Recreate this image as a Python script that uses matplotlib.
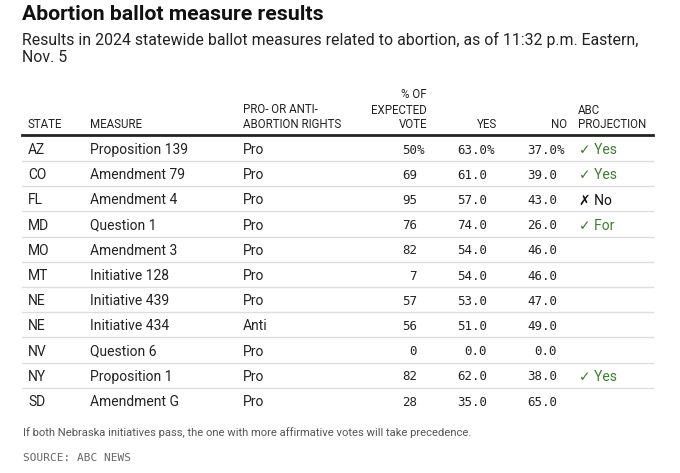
import matplotlib.pyplot as plt

states = ["AZ", "CO", "FL", "MD", "MO", "MT", "NE", "NE", "NV", "NY", "SD"]
measures = ["Proposition 139", "Amendment 79", "Amendment 4", "Question 1", "Amendment 3",
            "Initiative 128", "Initiative 439", "Initiative 434", "Question 6",
            "Proposition 1", "Amendment G"]
stances = ["Pro", "Pro", "Pro", "Pro", "Pro", "Pro", "Pro", "Anti", "Pro", "Pro", "Pro"]
expected = [50, 69, 95, 76, 82, 7, 57, 56, 0, 82, 28]
yes = [63.0, 61.0, 57.0, 74.0, 54.0, 54.0, 53.0, 51.0, 0.0, 62.0, 35.0]
no = [37.0, 39.0, 43.0, 26.0, 46.0, 46.0, 47.0, 49.0, 0.0, 38.0, 65.0]
projection = ["Yes", "Yes", "No", "For", "", "", "", "", "", "Yes", ""]
called = [True, True, False, True, None, None, None, None, None, True, None]

TEXT = "#222222"
GREEN = "#3b7d2e"
SANS = ["Roboto", "DejaVu Sans"]
MONO = "DejaVu Sans Mono"

fig = plt.figure(figsize=(6.8, 4.73), dpi=100)
ax = fig.add_axes([0, 0, 1, 1])
ax.set_xlim(0, 680)
ax.set_ylim(473, 0)
ax.axis("off")

# titles
ax.text(22, 15, "Abortion ballot measure results", fontsize=15.3, fontweight="bold",
        family=SANS, color="#111111", va="center")
ax.text(22, 40, "Results in 2024 statewide ballot measures related to abortion, as of 11:32 p.m. Eastern,",
        fontsize=11.4, family=SANS, color=TEXT, va="center")
ax.text(22, 58, "Nov. 5", fontsize=11.4, family=SANS, color=TEXT, va="center")

# header
hdr = dict(fontsize=8.3, family=SANS, color=TEXT, va="center")
ax.text(28, 124, "STATE", **hdr)
ax.text(90, 124, "MEASURE", **hdr)
ax.text(243, 109, "PRO- OR ANTI-", **hdr)
ax.text(243, 124, "ABORTION RIGHTS", **hdr)
ax.text(427, 95, "% OF", ha="right", **hdr)
ax.text(427, 110, "EXPECTED", ha="right", **hdr)
ax.text(427, 124, "VOTE", ha="right", **hdr)
ax.text(497, 124, "YES", ha="right", **hdr)
ax.text(567, 124, "NO", ha="right", **hdr)
ax.text(578, 110, "ABC", **hdr)
ax.text(578, 124, "PROJECTION", **hdr)
ax.plot([22, 653], [135, 135], color=TEXT, lw=2)

row0, step = 150, 25.2
body = dict(fontsize=10, family=SANS, color=TEXT, va="center")
num = dict(fontsize=9, family=MONO, color=TEXT, va="center", ha="right")
for i, st in enumerate(states):
    y = row0 + i * step
    ax.text(28, y, st, **body)
    ax.text(90, y, measures[i], **body)
    ax.text(243, y, stances[i], **body)
    ax.text(417, y, f"{expected[i]}", **num)
    ax.text(487, y, f"{yes[i]:.1f}", **num)
    ax.text(557, y, f"{no[i]:.1f}", **num)
    if i == 0:
        for xx in (417, 487, 557):
            ax.text(xx, y, "%", fontsize=9, family=MONO, color=TEXT, va="center", ha="left")
    if called[i] is True:
        ax.text(579, y, "\u2713 " + projection[i], fontsize=10, family=SANS, color=GREEN, va="center")
    elif called[i] is False:
        ax.text(579, y, "\u2717 " + projection[i], fontsize=10, family=SANS, color="#111111", va="center")
    if i < len(states) - 1:
        ax.plot([22, 653], [y + 11, y + 11], color="#dddddd", lw=1)

ax.text(23, 433, "If both Nebraska initiatives pass, the one with more affirmative votes will take precedence.",
        fontsize=8.15, family=SANS, color="#555555", va="center")
ax.text(23, 458, "SOURCE: ABC NEWS", fontsize=8.0, family=MONO, color="#666666", va="center")

fig.savefig("out.png", dpi=100)
